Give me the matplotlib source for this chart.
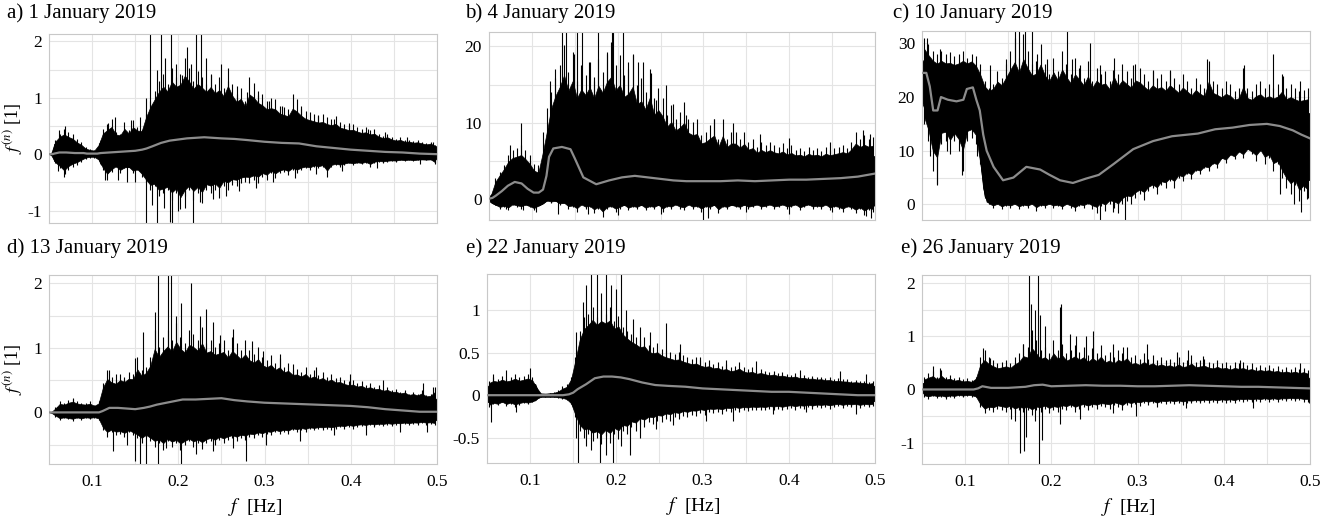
import numpy as np
import matplotlib
matplotlib.use("Agg")
import matplotlib.pyplot as plt
from matplotlib.ticker import FixedLocator, FuncFormatter

plt.rcParams['font.family'] = ['Liberation Serif', 'DejaVu Serif']
plt.rcParams['mathtext.fontset'] = 'stix'
plt.rcParams['axes.unicode_minus'] = False

# ---------------- data ----------------
titles = ["a) 1 January 2019", "b) 4 January 2019", "c) 10 January 2019",
          "d) 13 January 2019", "e) 22 January 2019", "e) 26 January 2019"]

# frequency grid on which the local extremes (hair tips) were read: 0.0525 ... 0.4975 Hz
hair_freq = np.linspace(0.0525, 0.4975, 90)

# ---- panel a ----
freq_a = [0.050, 0.054, 0.056, 0.062, 0.070, 0.080, 0.090, 0.094, 0.100, 0.106, 0.110, 0.120, 0.130,
          0.140, 0.150, 0.158, 0.163, 0.170, 0.180, 0.190, 0.200, 0.210, 0.220, 0.230, 0.240, 0.250,
          0.265, 0.280, 0.300, 0.320, 0.340, 0.360, 0.380, 0.400, 0.420, 0.440, 0.460, 0.480, 0.500]
upper_a = [0.00, 0.02, 0.18, 0.25, 0.22, 0.15, 0.08, 0.05, 0.04, 0.05, 0.25, 0.30, 0.30, 0.30, 0.32,
           0.40, 0.60, 0.75, 0.90, 0.98, 1.00, 1.00, 0.98, 0.95, 0.90, 0.85, 0.78, 0.70, 0.62, 0.54,
           0.47, 0.42, 0.37, 0.32, 0.27, 0.23, 0.19, 0.16, 0.14]
lower_a = [0.00, -0.02, -0.12, -0.16, -0.14, -0.09, -0.05, -0.03, -0.03, -0.03, -0.18, -0.22, -0.20,
           -0.22, -0.24, -0.28, -0.40, -0.46, -0.50, -0.52, -0.50, -0.48, -0.45, -0.42, -0.39, -0.36,
           -0.32, -0.28, -0.25, -0.22, -0.19, -0.17, -0.15, -0.13, -0.12, -0.10, -0.09, -0.09, -0.09]
mean_a = [0.00, 0.00, 0.01, 0.03, 0.03, 0.02, 0.02, 0.01, 0.01, 0.01, 0.02, 0.03, 0.04, 0.05, 0.06,
          0.08, 0.10, 0.14, 0.20, 0.24, 0.26, 0.28, 0.29, 0.30, 0.29, 0.28, 0.27, 0.25, 0.22, 0.20,
          0.19, 0.14, 0.11, 0.08, 0.06, 0.04, 0.03, 0.01, 0.00]
hair_up_a = [0.02, 0.25, 0.36, 0.45, 0.39, 0.36, 0.27, 0.22, 0.13, 0.10,
             0.08, 0.19, 0.45, 0.54, 0.63, 0.39, 0.36, 0.57, 0.42, 0.61,
             0.48, 0.42, 0.71, 0.95, 1.12, 1.30, 1.42, 1.24, 1.53, 1.36,
             1.42, 1.71, 1.53, 1.30, 1.47, 1.36, 1.24, 1.42, 1.24, 1.36,
             1.18, 1.53, 1.24, 1.06, 1.18, 0.95, 1.36, 1.27, 1.12, 1.06,
             0.95, 1.00, 0.98, 0.86, 0.83, 0.80, 1.06, 0.98, 0.86, 0.77,
             0.74, 0.71, 0.68, 0.71, 0.65, 0.63, 0.68, 0.57, 0.54, 0.51,
             0.53, 0.48, 0.45, 0.48, 0.42, 0.45, 0.36, 0.33, 0.36, 0.30,
             0.27, 0.30, 0.25, 0.26, 0.23, 0.25, 0.22, 0.19, 0.22, 0.16]
hair_dn_a = [-0.02, -0.16, -0.25, -0.40, -0.28, -0.22, -0.19, -0.13, -0.08, -0.06,
             -0.06, -0.10, -0.28, -0.46, -0.31, -0.22, -0.34, -0.25, -0.22, -0.34,
             -0.28, -0.40, -0.50, -0.63, -0.57, -0.75, -0.69, -0.63, -0.81, -0.69,
             -0.98, -0.75, -0.63, -0.81, -0.69, -0.87, -0.63, -0.69, -0.63, -0.78,
             -0.57, -0.63, -0.54, -0.57, -0.51, -0.49, -0.51, -0.46, -0.51, -0.40,
             -0.46, -0.34, -0.43, -0.34, -0.31, -0.37, -0.28, -0.34, -0.28, -0.25,
             -0.28, -0.22, -0.25, -0.22, -0.40, -0.22, -0.19, -0.22, -0.19, -0.16,
             -0.19, -0.16, -0.18, -0.15, -0.22, -0.15, -0.13, -0.15, -0.13, -0.12,
             -0.13, -0.10, -0.12, -0.10, -0.12, -0.10, -0.09, -0.10, -0.09, -0.18]
spike_f_a = [0.062, 0.068, 0.118, 0.127, 0.145, 0.155, 0.162, 0.167, 0.175, 0.180, 0.185, 0.192, 0.197,
             0.204, 0.210, 0.215, 0.221, 0.226, 0.232, 0.238, 0.250, 0.258, 0.268, 0.280, 0.292, 0.305,
             0.320, 0.342, 0.362, 0.380, 0.398, 0.420, 0.440, 0.465, 0.495,
             0.060, 0.068, 0.115, 0.130, 0.140, 0.150, 0.162, 0.170, 0.175, 0.183, 0.190, 0.193, 0.200,
             0.208, 0.217, 0.225, 0.240, 0.255, 0.270, 0.290, 0.310, 0.335, 0.360, 0.390, 0.430, 0.480, 0.498]
spike_v_a = [0.42, 0.50, 0.55, 0.65, 0.60, 0.65, 1.00, 2.20, 1.50, 2.20, 1.70, 2.20, 1.60,
             1.40, 1.90, 1.60, 2.20, 2.20, 1.70, 1.40, 1.60, 1.30, 1.20, 1.10, 1.05, 0.95,
             0.85, 0.80, 0.70, 0.62, 0.55, 0.45, 0.40, 0.30, 0.22,
             -0.30, -0.35, -0.45, -0.45, -0.50, -0.50, -1.30, -0.90, -1.30, -0.95, -1.20, -1.30, -1.00,
             -0.95, -1.30, -0.85, -0.80, -0.75, -0.65, -0.60, -0.50, -0.42, -0.35, -0.30, -0.25, -0.18, -0.15]

# ---- panel b ----
freq_b = [0.050, 0.054, 0.058, 0.065, 0.072, 0.080, 0.088, 0.095, 0.102, 0.108, 0.113, 0.117, 0.120,
          0.125, 0.135, 0.145, 0.150, 0.160, 0.175, 0.190, 0.205, 0.220, 0.235, 0.250, 0.265, 0.280,
          0.300, 0.320, 0.340, 0.360, 0.380, 0.400, 0.420, 0.440, 0.460, 0.480, 0.500]
upper_b = [0.3, 0.7, 1.8, 3.0, 3.8, 4.2, 4.2, 3.5, 2.6, 2.2, 2.5, 4.5, 8.0, 10.5, 11.5, 11.0, 10.5,
           10.5, 10.5, 10.5, 10.0, 9.5, 8.8, 8.0, 7.2, 6.5, 5.8, 5.5, 5.3, 5.1, 5.0, 4.8, 4.8, 4.8,
           5.0, 5.4, 5.6]
lower_b = [-0.3, -0.6, -0.8, -0.8, -0.7, -0.6, -0.6, -0.8, -0.9, -0.9, -0.6, -0.2, 0.0, -0.2, -0.5,
           -0.6, -0.7, -0.7, -0.8, -0.8, -0.8, -0.8, -0.8, -0.8, -0.7, -0.7, -0.8, -0.8, -0.8, -0.7,
           -0.7, -0.7, -0.7, -0.7, -0.8, -0.9, -0.9]
mean_b = [0.0, 0.1, 0.4, 1.0, 1.7, 2.2, 2.0, 1.3, 0.8, 0.8, 1.2, 3.0, 5.5, 6.6, 6.8, 6.5, 5.3, 2.8,
          1.9, 2.4, 2.8, 3.0, 2.8, 2.6, 2.4, 2.3, 2.3, 2.3, 2.4, 2.3, 2.4, 2.5, 2.5, 2.6, 2.7, 2.9, 3.3]
hair_up_b = [0.5, 2.7, 3.5, 4.4, 5.7, 6.4, 6.6, 7.0, 6.4, 5.7,
             4.6, 4.4, 8.8, 11.9, 14.0, 15.8, 17.5, 20.2, 16.7, 19.3,
             15.4, 17.5, 16.2, 18.0, 15.4, 18.4, 16.7, 19.3, 20.6, 17.5,
             18.9, 16.2, 17.1, 18.9, 14.9, 15.8, 14.0, 17.1, 13.2, 14.5,
             13.2, 11.0, 12.3, 10.5, 11.4, 12.7, 10.5, 10.1, 10.5, 8.4,
             8.8, 9.7, 10.5, 7.9, 10.5, 7.9, 8.8, 8.8, 7.9, 8.8,
             7.5, 7.9, 6.8, 7.5, 7.0, 7.5, 7.0, 6.8, 7.3, 6.6,
             7.0, 6.4, 6.6, 6.2, 6.8, 6.4, 6.6, 6.2, 6.8, 6.4,
             6.6, 6.8, 7.0, 6.6, 7.5, 8.8, 7.9, 8.4, 7.9, 8.1]
hair_dn_b = [-0.4, -0.8, -1.3, -1.1, -1.5, -0.8, -1.1, -1.3, -0.8, -1.1,
             -1.5, -0.8, -0.4, -0.3, -0.6, -0.2, -0.8, -0.4, -1.3, -1.1,
             -1.7, -0.8, -1.3, -1.1, -1.9, -1.3, -2.4, -1.3, -1.1, -1.7,
             -1.3, -0.8, -1.5, -1.1, -1.3, -0.8, -1.5, -1.1, -1.3, -0.8,
             -1.7, -1.1, -1.3, -0.8, -1.3, -1.5, -0.8, -1.3, -1.1, -1.7,
             -1.1, -1.3, -0.8, -1.9, -1.1, -1.3, -0.8, -1.1, -1.3, -0.8,
             -1.3, -1.1, -0.8, -1.3, -1.1, -0.8, -1.3, -1.1, -0.8, -1.3,
             -1.1, -0.8, -1.5, -1.1, -0.8, -1.3, -1.1, -1.3, -0.8, -1.5,
             -1.1, -1.3, -1.7, -1.1, -1.3, -1.9, -1.3, -2.1, -1.5, -1.7]
spike_f_b = [0.075, 0.0876, 0.098, 0.121, 0.127, 0.131, 0.135, 0.140, 0.149, 0.153, 0.158, 0.166, 0.172,
             0.177, 0.187, 0.193, 0.195, 0.203, 0.206, 0.212, 0.218, 0.224, 0.230, 0.239, 0.245, 0.256,
             0.265, 0.280, 0.312, 0.335, 0.366, 0.400, 0.447, 0.486, 0.494,
             0.070, 0.090, 0.105, 0.130, 0.165, 0.200, 0.250, 0.300, 0.305, 0.350, 0.400, 0.450, 0.490, 0.495]
spike_v_b = [7.0, 9.9, 5.0, 15.5, 17.0, 14.0, 22.5, 22.5, 19.0, 22.5, 22.5, 18.0, 16.0,
             22.5, 19.0, 22.5, 22.5, 17.0, 22.5, 18.0, 19.0, 18.0, 18.0, 16.5, 13.0, 15.0,
             12.5, 11.0, 10.5, 10.0, 8.5, 8.0, 7.5, 9.0, 8.5,
             -1.3, -1.5, -1.8, -2.0, -2.0, -2.2, -2.0, -2.8, -2.5, -1.8, -2.0, -1.8, -2.3, -2.5]

# ---- panel c ----
freq_c = [0.050, 0.055, 0.059, 0.063, 0.068, 0.072, 0.080, 0.090, 0.098, 0.102, 0.109, 0.113, 0.117,
          0.121, 0.125, 0.133, 0.144, 0.156, 0.171, 0.187, 0.198, 0.210, 0.225, 0.240, 0.255, 0.272,
          0.295, 0.318, 0.340, 0.370, 0.390, 0.410, 0.430, 0.450, 0.465, 0.480, 0.490, 0.500]
upper_c = [27.0, 26.0, 25.0, 24.5, 24.0, 24.5, 24.0, 24.0, 24.5, 25.0, 25.0, 23.5, 22.0, 21.0, 20.5,
           20.5, 20.5, 21.0, 21.5, 21.5, 21.5, 21.0, 20.5, 20.5, 20.0, 19.5, 19.5, 19.0, 19.0, 18.5,
           18.0, 17.5, 17.5, 17.5, 17.2, 17.0, 17.0, 17.0]
lower_c = [19.0, 17.0, 16.0, 14.5, 15.0, 16.0, 15.5, 15.0, 15.0, 16.0, 16.0, 15.0, 9.0, 3.0, 0.5,
           0.3, 0.3, 0.3, 0.3, 0.3, 0.3, 0.3, 0.3, 0.5, 1.0, 2.0, 3.5, 4.5, 5.8, 7.0, 8.2, 9.5,
           10.5, 10.5, 8.5, 6.0, 5.0, 4.5]
mean_c = [24.5, 24.5, 22.0, 17.5, 17.5, 20.0, 19.5, 19.2, 19.5, 21.5, 21.8, 19.5, 17.5, 13.0, 10.0,
          7.0, 4.5, 5.0, 7.0, 6.5, 5.5, 4.5, 4.0, 4.8, 5.5, 7.5, 10.3, 11.8, 12.7, 13.2, 14.0, 14.3,
          14.8, 15.0, 14.6, 13.8, 13.0, 12.3]
hair_up_c = [31.0, 29.8, 28.6, 28.0, 28.6, 28.0, 28.3, 27.6, 28.0, 28.6,
             27.3, 28.0, 27.6, 26.1, 23.0, 21.7, 22.4, 24.8, 23.6, 26.1,
             28.6, 31.0, 27.3, 31.7, 28.6, 26.1, 26.7, 29.8, 26.1, 24.2,
             27.3, 24.8, 28.6, 26.1, 24.2, 27.3, 25.5, 23.6, 26.7, 23.0,
             25.5, 24.2, 24.8, 23.0, 27.3, 24.2, 26.1, 24.8, 23.6, 26.1,
             25.5, 24.2, 23.0, 24.8, 23.6, 24.2, 23.0, 24.8, 23.6, 22.4,
             24.2, 23.0, 21.7, 23.6, 22.4, 21.7, 26.7, 23.0, 22.4, 21.7,
             23.0, 22.4, 21.1, 21.7, 25.5, 21.7, 21.1, 22.4, 23.0, 21.7,
             22.4, 21.7, 22.4, 24.2, 21.7, 22.4, 21.7, 21.1, 21.4, 21.7]
hair_dn_c = [14.9, 11.8, 6.2, 3.7, 11.2, 11.8, 9.3, 11.8, 9.9, 6.2,
             11.8, 12.4, 11.2, 7.5, 1.2, 0.0, -0.6, 0.0, -0.9, -0.3,
             -0.6, 0.0, -0.9, -0.3, -0.6, 0.0, -1.2, -0.3, -0.6, 0.0,
             -0.6, -0.3, -0.9, 0.0, -0.6, -1.2, -0.3, -0.6, 0.0, -0.9,
             -1.6, -0.3, -1.2, 0.0, -0.6, -1.6, 0.0, 0.6, 0.0, 1.2,
             1.9, 0.9, 2.5, 3.1, 1.9, 3.7, 3.1, 4.3, 3.1, 5.0,
             4.3, 5.6, 4.7, 6.2, 5.6, 6.8, 6.2, 7.5, 6.8, 8.7,
             7.8, 9.3, 8.4, 9.9, 8.7, 10.6, 9.3, 8.1, 9.9, 7.5,
             8.7, 6.2, 7.5, 5.0, 3.1, 1.9, 3.7, 0.6, 2.5, 1.2]
spike_f_c = [0.0554, 0.071, 0.129, 0.148, 0.158, 0.162, 0.170, 0.177, 0.183, 0.1946, 0.218, 0.2236,
             0.233, 0.245, 0.256, 0.272, 0.295, 0.318, 0.338, 0.380, 0.423, 0.457, 0.469, 0.488,
             0.0593, 0.067, 0.0786, 0.096, 0.1134, 0.256, 0.2854, 0.272, 0.465, 0.481, 0.490, 0.496]
spike_v_c = [31.0, 29.0, 26.0, 27.0, 33.0, 33.0, 33.0, 33.0, 28.0, 27.0, 33.0, 27.0,
             26.0, 30.0, 26.0, 25.0, 26.0, 25.0, 25.0, 27.0, 26.0, 28.0, 24.0, 23.0,
             9.0, 3.8, 10.0, 5.5, 9.0, -3.0, -3.0, -1.5, 2.0, 0.0, -1.5, 1.0]

# ---- panel d ----
freq_d = [0.050, 0.057, 0.059, 0.070, 0.080, 0.090, 0.100, 0.108, 0.112, 0.120, 0.130, 0.140, 0.150,
          0.160, 0.167, 0.175, 0.190, 0.205, 0.220, 0.235, 0.250, 0.265, 0.280, 0.300, 0.320, 0.340,
          0.360, 0.380, 0.400, 0.420, 0.440, 0.460, 0.480, 0.500]
upper_d = [0.00, 0.01, 0.08, 0.10, 0.10, 0.10, 0.09, 0.10, 0.30, 0.36, 0.38, 0.38, 0.42, 0.46, 0.55,
           0.65, 0.72, 0.76, 0.76, 0.75, 0.72, 0.68, 0.62, 0.57, 0.52, 0.47, 0.43, 0.39, 0.35, 0.32,
           0.29, 0.26, 0.23, 0.21]
lower_d = [0.00, -0.01, -0.05, -0.06, -0.06, -0.06, -0.05, -0.06, -0.18, -0.22, -0.24, -0.24, -0.26,
           -0.30, -0.32, -0.34, -0.36, -0.36, -0.35, -0.33, -0.31, -0.29, -0.27, -0.25, -0.23, -0.21,
           -0.19, -0.18, -0.16, -0.15, -0.14, -0.13, -0.12, -0.12]
mean_d = [0.00, 0.00, 0.00, 0.00, 0.00, 0.00, 0.00, 0.00, 0.02, 0.07, 0.07, 0.06, 0.05, 0.07, 0.09,
          0.12, 0.16, 0.20, 0.20, 0.21, 0.22, 0.19, 0.17, 0.15, 0.14, 0.13, 0.12, 0.11, 0.10, 0.08,
          0.05, 0.03, 0.01, 0.01]
hair_up_d = [0.00, 0.09, 0.17, 0.14, 0.19, 0.22, 0.17, 0.15, 0.14, 0.17,
             0.11, 0.17, 0.45, 0.66, 0.55, 0.50, 0.60, 0.55, 0.63, 0.60,
             0.86, 0.66, 0.71, 0.86, 1.28, 1.02, 1.17, 1.28, 1.12, 1.38,
             1.17, 1.07, 1.28, 1.22, 1.12, 1.33, 1.07, 1.12, 1.02, 1.07,
             1.12, 0.97, 1.17, 1.07, 0.97, 1.12, 0.97, 0.91, 1.02, 0.86,
             0.81, 0.89, 0.76, 0.84, 0.71, 0.76, 0.66, 0.68, 0.63, 0.71,
             0.60, 0.66, 0.58, 0.63, 0.55, 0.60, 0.53, 0.55, 0.50, 0.48,
             0.50, 0.45, 0.48, 0.42, 0.45, 0.40, 0.42, 0.37, 0.40, 0.35,
             0.36, 0.32, 0.35, 0.29, 0.32, 0.29, 0.35, 0.27, 0.29, 0.40]
hair_dn_d = [0.00, -0.07, -0.12, -0.09, -0.11, -0.13, -0.09, -0.12, -0.09, -0.11,
             -0.09, -0.12, -0.27, -0.38, -0.30, -0.35, -0.33, -0.38, -0.30, -0.35,
             -0.40, -0.48, -0.38, -0.45, -0.53, -0.48, -0.58, -0.45, -0.53, -0.48,
             -0.58, -0.51, -0.45, -0.53, -0.48, -0.56, -0.48, -0.45, -0.51, -0.43,
             -0.48, -0.43, -0.40, -0.45, -0.40, -0.43, -0.38, -0.40, -0.35, -0.38,
             -0.33, -0.35, -0.30, -0.34, -0.30, -0.33, -0.27, -0.30, -0.27, -0.30,
             -0.26, -0.28, -0.26, -0.27, -0.25, -0.27, -0.25, -0.23, -0.25, -0.22,
             -0.25, -0.22, -0.21, -0.23, -0.20, -0.22, -0.20, -0.21, -0.19, -0.21,
             -0.19, -0.20, -0.18, -0.20, -0.18, -0.19, -0.17, -0.19, -0.18, -0.20]
spike_f_d = [0.078, 0.120, 0.128, 0.150, 0.159, 0.1725, 0.176, 0.188, 0.192, 0.1975, 0.2035, 0.215,
             0.225, 0.2325, 0.240, 0.248, 0.263, 0.286, 0.298, 0.3175, 0.333, 0.360, 0.399, 0.437,
             0.484, 0.495,
             0.124, 0.140, 0.150, 0.155, 0.163, 0.176, 0.186, 0.2035, 0.221, 0.240, 0.263, 0.279,
             0.302, 0.341, 0.380, 0.418, 0.457, 0.488]
spike_v_d = [0.20, 0.65, 0.60, 0.85, 1.25, 1.55, 2.20, 2.20, 2.20, 1.50, 1.70, 2.00,
             1.50, 1.60, 1.40, 1.20, 1.30, 1.10, 0.95, 0.90, 0.75, 0.70, 0.60, 0.50,
             0.45, 0.40,
             -0.60, -0.50, -0.75, -0.85, -0.85, -0.85, -0.55, -0.85, -0.65, -0.60, -0.55, -0.75,
             -0.50, -0.45, -0.35, -0.35, -0.30, -0.30]

# ---- panel e ----
freq_e = [0.050, 0.060, 0.070, 0.080, 0.090, 0.100, 0.106, 0.110, 0.120, 0.130, 0.138, 0.145, 0.150,
          0.155, 0.165, 0.175, 0.185, 0.195, 0.205, 0.215, 0.230, 0.245, 0.260, 0.280, 0.300, 0.320,
          0.340, 0.360, 0.380, 0.400, 0.420, 0.440, 0.460, 0.480, 0.500]
upper_e = [0.11, 0.12, 0.13, 0.13, 0.12, 0.14, 0.13, 0.02, 0.015, 0.015, 0.04, 0.07, 0.25, 0.48, 0.65,
           0.72, 0.72, 0.68, 0.64, 0.53, 0.45, 0.39, 0.34, 0.30, 0.27, 0.24, 0.22, 0.21, 0.19, 0.18,
           0.16, 0.15, 0.13, 0.12, 0.11]
lower_e = [-0.08, -0.08, -0.07, -0.07, -0.07, -0.07, -0.06, -0.015, -0.015, -0.015, -0.02, -0.035,
           -0.14, -0.25, -0.30, -0.33, -0.33, -0.30, -0.28, -0.23, -0.18, -0.16, -0.13, -0.12, -0.11,
           -0.10, -0.09, -0.09, -0.09, -0.08, -0.08, -0.07, -0.07, -0.07, -0.07]
mean_e = [0.00, 0.00, 0.00, 0.00, 0.00, 0.00, 0.00, 0.00, 0.00, 0.00, 0.00, 0.01, 0.03, 0.07, 0.13,
          0.20, 0.22, 0.22, 0.21, 0.19, 0.15, 0.12, 0.11, 0.10, 0.08, 0.07, 0.06, 0.05, 0.04, 0.04,
          0.03, 0.02, 0.01, 0.00, 0.00]
hair_up_e = [0.17, 0.21, 0.19, 0.23, 0.19, 0.21, 0.25, 0.21, 0.23, 0.25,
             0.21, 0.06, 0.02, 0.02, 0.03, 0.04, 0.06, 0.11, 0.13, 0.21,
             0.45, 0.76, 0.92, 0.96, 1.04, 0.92, 1.00, 0.96, 1.04, 0.88,
             0.94, 0.80, 0.76, 0.72, 0.69, 0.65, 0.69, 0.59, 0.57, 0.61,
             0.55, 0.53, 0.51, 0.49, 0.51, 0.47, 0.45, 0.43, 0.45, 0.41,
             0.39, 0.41, 0.37, 0.39, 0.35, 0.37, 0.33, 0.35, 0.39, 0.33,
             0.31, 0.33, 0.29, 0.31, 0.29, 0.27, 0.29, 0.26, 0.27, 0.25,
             0.24, 0.26, 0.23, 0.24, 0.22, 0.23, 0.21, 0.22, 0.20, 0.21,
             0.19, 0.20, 0.19, 0.19, 0.17, 0.18, 0.17, 0.17, 0.15, 0.17]
hair_dn_e = [-0.14, -0.10, -0.12, -0.08, -0.13, -0.10, -0.14, -0.11, -0.09, -0.10,
             -0.08, -0.03, -0.02, -0.02, -0.02, -0.02, -0.03, -0.04, -0.06, -0.10,
             -0.26, -0.42, -0.50, -0.46, -0.54, -0.50, -0.57, -0.48, -0.56, -0.46,
             -0.52, -0.42, -0.46, -0.38, -0.42, -0.34, -0.38, -0.32, -0.34, -0.30,
             -0.32, -0.28, -0.30, -0.26, -0.28, -0.24, -0.26, -0.23, -0.24, -0.21,
             -0.23, -0.20, -0.21, -0.20, -0.22, -0.19, -0.20, -0.18, -0.20, -0.18,
             -0.19, -0.17, -0.18, -0.17, -0.18, -0.16, -0.17, -0.16, -0.18, -0.16,
             -0.15, -0.17, -0.15, -0.16, -0.14, -0.16, -0.14, -0.15, -0.14, -0.16,
             -0.14, -0.13, -0.15, -0.13, -0.14, -0.13, -0.15, -0.13, -0.14, -0.13]
spike_f_e = [0.057, 0.072, 0.0995, 0.1536, 0.161, 0.165, 0.171, 0.177, 0.1826, 0.188, 0.194, 0.200,
             0.2058, 0.2116, 0.219, 0.227, 0.2387, 0.258, 0.2735, 0.2967, 0.3276, 0.3624, 0.4126,
             0.459, 0.490,
             0.055, 0.084, 0.1536, 0.1555, 0.165, 0.171, 0.1807, 0.188, 0.196, 0.2058, 0.2155, 0.227,
             0.2464, 0.2657, 0.3044, 0.3353, 0.3817, 0.4204, 0.4783]
spike_v_e = [0.25, 0.30, 0.32, 0.75, 1.10, 1.30, 1.45, 1.45, 1.20, 1.45, 1.30, 1.25,
             1.45, 1.00, 0.90, 0.80, 0.75, 0.85, 0.60, 0.45, 0.42, 0.40, 0.30,
             0.28, 0.25,
             -0.32, -0.20, -0.50, -0.80, -0.60, -0.65, -0.80, -0.70, -0.80, -0.60, -0.70, -0.50,
             -0.40, -0.35, -0.30, -0.30, -0.22, -0.20, -0.22]

# ---- panel f ----
freq_f = [0.050, 0.060, 0.070, 0.080, 0.090, 0.100, 0.110, 0.115, 0.120, 0.130, 0.140, 0.150, 0.160,
          0.170, 0.180, 0.190, 0.200, 0.220, 0.240, 0.260, 0.280, 0.300, 0.320, 0.340, 0.360, 0.380,
          0.400, 0.420, 0.440, 0.460, 0.480, 0.500]
upper_f = [0.12, 0.13, 0.13, 0.12, 0.11, 0.10, 0.10, 0.22, 0.33, 0.31, 0.28, 0.30, 0.31, 0.35, 0.37,
           0.37, 0.37, 0.38, 0.37, 0.35, 0.33, 0.32, 0.31, 0.30, 0.30, 0.28, 0.27, 0.26, 0.25, 0.24,
           0.22, 0.22]
lower_f = [-0.07, -0.08, -0.08, -0.08, -0.07, -0.07, -0.07, -0.14, -0.25, -0.24, -0.22, -0.23, -0.25,
           -0.25, -0.24, -0.23, -0.22, -0.22, -0.20, -0.19, -0.17, -0.16, -0.15, -0.15, -0.15, -0.14,
           -0.13, -0.13, -0.12, -0.12, -0.12, -0.11]
mean_f = [0.00, 0.00, 0.00, 0.00, 0.00, 0.00, 0.00, 0.02, 0.06, 0.03, 0.03, 0.03, 0.04, 0.05, 0.08,
          0.09, 0.06, 0.07, 0.08, 0.07, 0.07, 0.06, 0.06, 0.07, 0.08, 0.07, 0.06, 0.05, 0.05, 0.04,
          0.03, 0.02]
hair_up_f = [0.24, 0.30, 0.35, 0.24, 0.36, 0.24, 0.27, 0.21, 0.24, 0.19,
             0.21, 0.18, 0.24, 0.61, 0.74, 0.61, 0.55, 0.49, 0.52, 0.55,
             0.49, 0.61, 0.68, 0.86, 0.80, 1.11, 0.93, 0.74, 0.80, 0.68,
             0.93, 0.74, 0.86, 0.68, 0.74, 0.83, 0.71, 0.80, 0.64, 0.77,
             0.68, 0.83, 0.64, 0.71, 0.61, 0.74, 0.68, 0.80, 0.61, 0.64,
             0.58, 0.68, 0.58, 0.64, 0.55, 0.61, 0.55, 0.58, 0.52, 0.61,
             0.52, 0.55, 0.64, 0.52, 0.55, 0.58, 0.52, 0.49, 0.55, 0.49,
             0.52, 0.46, 0.52, 0.49, 0.52, 0.46, 0.49, 0.43, 0.46, 0.43,
             0.46, 0.41, 0.44, 0.39, 0.43, 0.39, 0.43, 0.38, 0.41, 0.36]
hair_dn_f = [-0.14, -0.17, -0.13, -0.16, -0.14, -0.18, -0.14, -0.16, -0.13, -0.15,
             -0.13, -0.14, -0.15, -0.33, -0.45, -0.39, -0.42, -0.36, -0.39, -0.42,
             -0.36, -0.45, -0.39, -0.42, -0.39, -0.48, -0.39, -0.42, -0.36, -0.45,
             -0.39, -0.42, -0.36, -0.39, -0.33, -0.42, -0.36, -0.33, -0.39, -0.33,
             -0.36, -0.31, -0.33, -0.36, -0.29, -0.33, -0.39, -0.29, -0.33, -0.28,
             -0.31, -0.26, -0.29, -0.26, -0.33, -0.26, -0.28, -0.25, -0.28, -0.25,
             -0.29, -0.25, -0.26, -0.24, -0.26, -0.23, -0.25, -0.23, -0.26, -0.23,
             -0.25, -0.23, -0.26, -0.21, -0.23, -0.21, -0.24, -0.21, -0.23, -0.20,
             -0.23, -0.20, -0.23, -0.20, -0.21, -0.19, -0.21, -0.20, -0.23, -0.23]
spike_f_f = [0.0628, 0.0705, 0.1208, 0.1285, 0.1672, 0.1738, 0.1769, 0.1808, 0.1846, 0.1866, 0.1924,
             0.2098, 0.2117, 0.2214, 0.2291, 0.2407, 0.2485, 0.2717, 0.2833, 0.3104, 0.3452, 0.3587,
             0.3762, 0.4187, 0.4883,
             0.1537, 0.1576, 0.1634, 0.1680, 0.1711, 0.1858, 0.1893, 0.1808, 0.2098, 0.2330, 0.2717,
             0.2980, 0.3561, 0.4334, 0.4990]
spike_v_f = [0.45, 0.40, 0.78, 0.60, 0.85, 2.20, 1.60, 1.50, 2.20, 1.40, 1.20,
             1.55, 1.60, 1.05, 1.00, 1.00, 1.10, 0.85, 0.80, 0.85, 0.70, 0.75,
             0.62, 0.55, 0.50,
             -0.55, -0.60, -1.20, -1.15, -0.90, -1.45, -0.95, -0.60, -0.65, -0.55, -0.45,
             -0.50, -0.35, -0.35, -0.25]

y_limits = [(-1.22, 2.13), (-2.8, 21.9), (-2.9, 32.3), (-0.80, 2.13), (-0.80, 1.43), (-1.40, 2.15)]
y_labels_at = [[-1, 0, 1, 2], [0, 10, 20], [0, 10, 20, 30], [0, 1, 2], [-0.5, 0, 0.5, 1], [-1, 0, 1, 2]]
y_grid_at = [[-1, -0.5, 0, 0.5, 1, 1.5, 2], [0, 5, 10, 15, 20], [0, 5, 10, 15, 20, 25, 30],
             [-0.5, 0, 0.5, 1, 1.5, 2], [-0.5, 0, 0.5, 1], [-1, -0.5, 0, 0.5, 1, 1.5, 2]]
x_labels_at = [0.1, 0.2, 0.3, 0.4, 0.5]
x_grid_at = [0.05, 0.1, 0.15, 0.2, 0.25, 0.3, 0.35, 0.4, 0.45, 0.5]

panels = [
    (freq_a, upper_a, lower_a, mean_a, hair_up_a, hair_dn_a, spike_f_a, spike_v_a),
    (freq_b, upper_b, lower_b, mean_b, hair_up_b, hair_dn_b, spike_f_b, spike_v_b),
    (freq_c, upper_c, lower_c, mean_c, hair_up_c, hair_dn_c, spike_f_c, spike_v_c),
    (freq_d, upper_d, lower_d, mean_d, hair_up_d, hair_dn_d, spike_f_d, spike_v_d),
    (freq_e, upper_e, lower_e, mean_e, hair_up_e, hair_dn_e, spike_f_e, spike_v_e),
    (freq_f, upper_f, lower_f, mean_f, hair_up_f, hair_dn_f, spike_f_f, spike_v_f),
]

# ---------------- layout ----------------
W, H = 1343, 521
fig = plt.figure(figsize=(W / 100, H / 100), dpi=100)
boxes = [(49, 34, 437, 223), (489, 32, 875, 220), (922, 31, 1310, 220),
         (49, 275, 437, 464), (487, 274, 875, 463), (922, 275, 1310, 464)]
title_pos = [(7, 13.5), (465, 13.5), (893, 13.5), (7, 248.5), (466, 248.5), (901, 248.5)]

fmt = FuncFormatter(lambda v, p: '%g' % v)

for i, (box, data) in enumerate(zip(boxes, panels)):
    l, t, r, b = box
    ax = fig.add_axes([l / W, 1 - b / H, (r - l) / W, (b - t) / H])
    fr, up, lo, mn, hu, hd, sf, sv = data
    fr = np.asarray(fr)
    hu = np.asarray(hu)
    hd = np.asarray(hd)
    # solid core
    ax.fill_between(fr, lo, up, color='black', lw=0.6, zorder=2)
    # dense part of the fringe: half way between the core edge and the hair tips
    core_up = np.interp(hair_freq, fr, up)
    core_lo = np.interp(hair_freq, fr, lo)
    dense_up = np.maximum(core_up, core_up + 0.55 * (hu - core_up))
    dense_lo = np.minimum(core_lo, core_lo + 0.55 * (hd - core_lo))
    ax.fill_between(hair_freq, dense_lo, dense_up, color='black', lw=0.5, zorder=2)
    # the hairs themselves
    ax.vlines(hair_freq, hd, hu, colors='black', lw=0.8, zorder=2)
    # isolated tall spikes
    sf = np.asarray(sf)
    base = np.interp(sf, fr, mn)
    ax.vlines(sf, base, sv, colors='black', lw=0.8, zorder=2)
    ax.plot(fr, mn, color='#8c8c8c', lw=1.6, zorder=3)

    ax.set_xlim(0.05, 0.5)
    ax.set_ylim(*y_limits[i])
    ax.xaxis.set_major_locator(FixedLocator(x_labels_at))
    ax.xaxis.set_minor_locator(FixedLocator(x_grid_at))
    ax.yaxis.set_major_locator(FixedLocator(y_labels_at[i]))
    ax.yaxis.set_minor_locator(FixedLocator(y_grid_at[i]))
    ax.xaxis.set_major_formatter(fmt)
    ax.yaxis.set_major_formatter(fmt)
    ax.grid(True, which='both', color='#e4e4e4', lw=0.8)
    ax.set_axisbelow(True)
    ax.tick_params(which='both', length=0, labelsize=12.5)
    ax.tick_params(axis='y', pad=5)
    ax.tick_params(axis='x', pad=7)
    for s in ax.spines.values():
        s.set_color('#c8c8c8')
        s.set_linewidth(0.8)
    if i < 3:
        ax.tick_params(axis='x', labelbottom=False)
    else:
        ax.set_xlabel(r'$f$  [Hz]', fontsize=14)
        ax.xaxis.set_label_coords(0.53, -0.17)
    if i in (0, 3):
        ax.set_ylabel(r'$f^{(n)}$ [1]', fontsize=13)
        ax.yaxis.set_label_coords(-0.062, 0.5)
    tx, ty = title_pos[i]
    fig.text(tx / W, 1 - ty / H, titles[i], fontsize=15, ha='left', va='center')

fig.savefig('out.png', dpi=100)
